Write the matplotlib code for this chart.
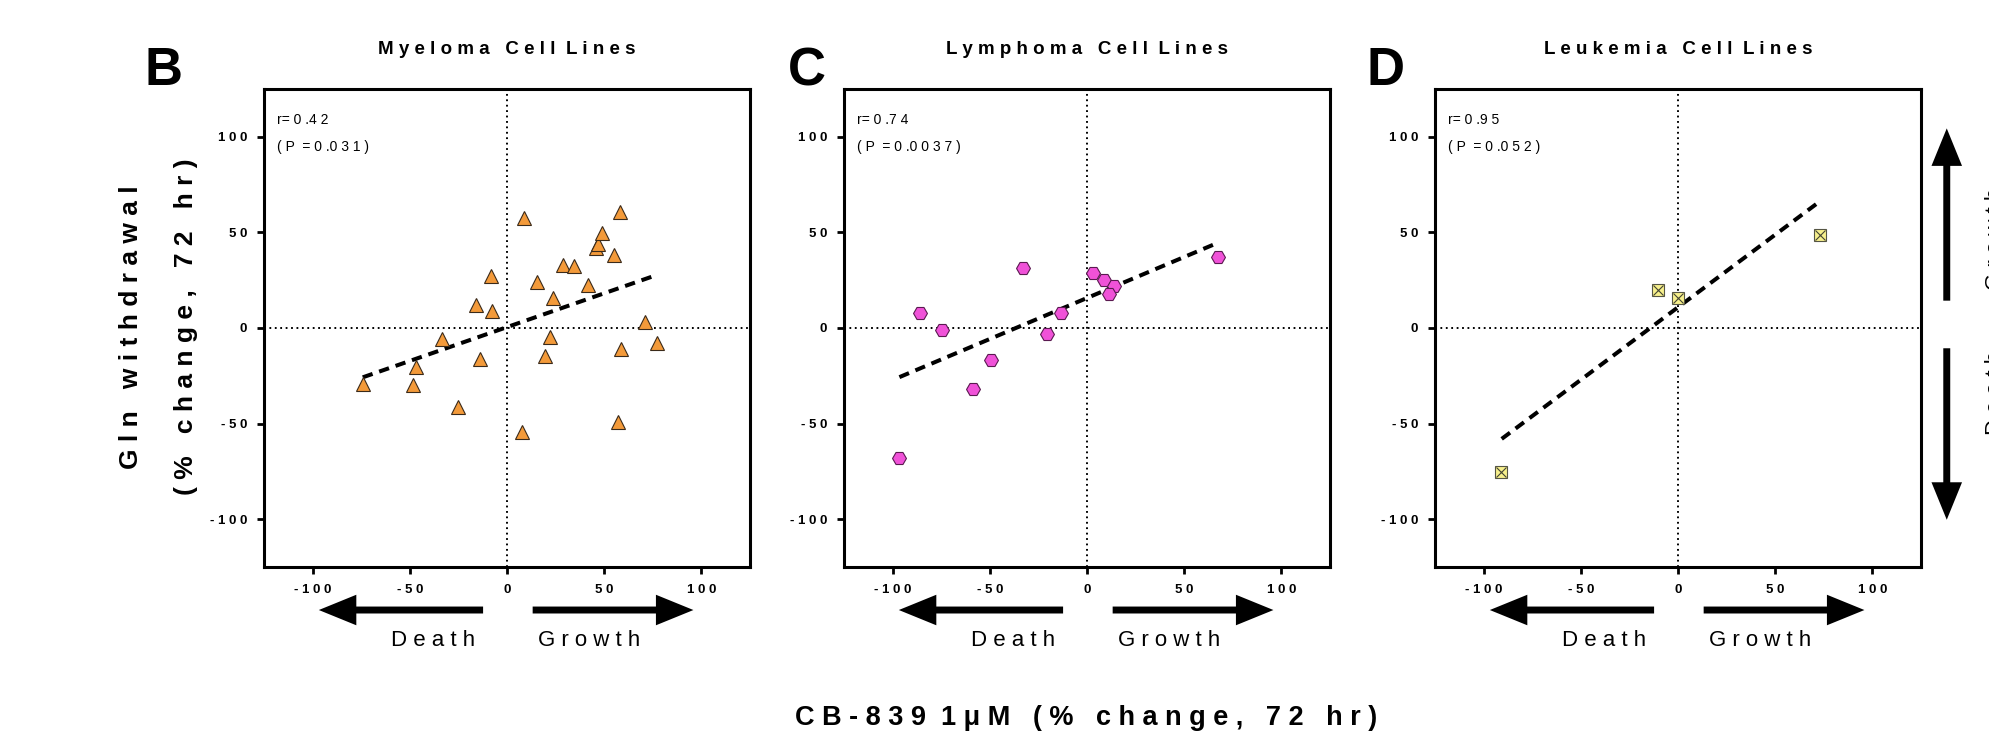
import matplotlib
matplotlib.use('Agg')
import matplotlib.pyplot as plt
from matplotlib.patches import FancyArrowPatch, ArrowStyle

plt.rcParams['font.family'] = ['Liberation Sans', 'DejaVu Sans']
plt.rcParams['lines.scale_dashes'] = False

# ---------------- data ----------------
panel_letters = ['B', 'C', 'D']
panel_titles = ['M y e l o m a   C e l l  L i n e s',
                'L y m p h o m a   C e l l  L i n e s',
                'L e u k e m i a   C e l l  L i n e s']

myeloma_x = [-74.2, -48.4, -46.7, -25.0, -33.2, -13.8, -15.9, -8.0, -7.9, 8.9,
             7.7, 15.6, 23.8, 22.1, 19.5, 28.7, 34.4, 41.5, 45.6, 47.0,
             48.9, 55.2, 57.9, 58.5, 56.9, 70.8, 77.4]
myeloma_y = [-29.1, -29.6, -20.4, -41.4, -5.7, -16.0, 12.0, 27.1, 8.7, 57.7,
             -54.3, 24.3, 15.6, -4.7, -14.8, 33.0, 32.2, 22.4, 41.7, 44.0,
             49.6, 38.3, 60.9, -11.0, -49.3, 3.1, -7.8]
myeloma_fit_x = [-74.2, 76.4]
myeloma_fit_y = [-25.8, 27.5]
myeloma_stats = ['r= 0 .4 2', '( P  = 0 .0 3 1 )']

lymphoma_x = [-96.9, -86.0, -74.8, -58.5, -49.4, -32.9, -20.8, -13.6, 3.1, 8.8,
              14.0, 11.2, 67.3]
lymphoma_y = [-68.2, 7.8, -1.0, -31.7, -16.5, 31.5, -3.1, 7.8, 28.9, 25.2,
              21.9, 17.7, 37.0]
lymphoma_fit_x = [-96.5, 66.7]
lymphoma_fit_y = [-25.7, 44.3]
lymphoma_stats = ['r= 0 .7 4', '( P  = 0 .0 0 3 7 )']

leukemia_x = [-91.1, -10.4, 0.2, 73.2]
leukemia_y = [-75.4, 19.7, 15.5, 48.4]
leukemia_fit_x = [-90.7, 73.2]
leukemia_fit_y = [-58.0, 66.4]
leukemia_stats = ['r= 0 .9 5', '( P  = 0 .0 5 2 )']

tick_values = [-100, -50, 0, 50, 100]
tick_labels = ['- 1 0 0', '- 5 0', '0', '5 0', '1 0 0']
axis_limits = [-125, 125]

x_label = 'C B - 8 3 9  1 \u03bc M   ( %   c h a n g e ,   7 2   h r )'
y_label_1 = 'G l n   w i t h d r a w a l'
y_label_2 = '( %   c h a n g e ,   7 2   h r )'
death_label = 'D e a t h'
growth_label = 'G r o w t h'

# ---------------- figure ----------------
W, H = 1990, 733
fig = plt.figure(figsize=(W / 100, H / 100), dpi=100)

ax_left_px = [264, 844, 1435]
ax_top_px, ax_bot_px, ax_w_px = 89, 567, 486
axes = []
for lp in ax_left_px:
    ax = fig.add_axes([lp / W, 1 - ax_bot_px / H, ax_w_px / W, (ax_bot_px - ax_top_px) / H])
    axes.append(ax)

datasets = [
    (myeloma_x, myeloma_y, myeloma_fit_x, myeloma_fit_y, myeloma_stats),
    (lymphoma_x, lymphoma_y, lymphoma_fit_x, lymphoma_fit_y, lymphoma_stats),
    (leukemia_x, leukemia_y, leukemia_fit_x, leukemia_fit_y, leukemia_stats),
]

shaft_style = ArrowStyle.Simple(head_length=27, head_width=22, tail_width=5)


def arrow(ax, p0, p1, transform):
    a = FancyArrowPatch(p0, p1, arrowstyle=shaft_style, mutation_scale=1,
                        color='black', lw=0, shrinkA=0, shrinkB=0,
                        transform=transform, clip_on=False)
    ax.add_patch(a)


for i, (ax, (xs, ys, fx, fy, stats)) in enumerate(zip(axes, datasets)):
    ax.set_xlim(axis_limits)
    ax.set_ylim(axis_limits)
    ax.axvline(0, color='black', lw=1.4, linestyle=(0, (1.3, 2.6)), zorder=1)
    ax.axhline(0, color='black', lw=1.4, linestyle=(0, (1.3, 2.6)), zorder=1)
    ax.plot(fx, fy, color='black', lw=2.9, linestyle=(0, (7.5, 5.0)),
            dash_capstyle='butt', zorder=2)
    if i == 0:
        ax.plot(xs, ys, linestyle='none', marker='^', ms=10,
                mfc='#F39A3A', mec='#3a2a1a', mew=0.8, zorder=3)
    elif i == 1:
        ax.plot(xs, ys, linestyle='none', marker='H', ms=10,
                mfc='#F052D8', mec='#5a1a50', mew=0.8, zorder=3)
    else:
        ax.plot(xs, ys, linestyle='none', marker='s', ms=9,
                mfc='#F7F08C', mec='#555544', mew=0.8, zorder=3)
        ax.plot(xs, ys, linestyle='none', marker='x', ms=7.5,
                mec='#444433', mew=0.8, zorder=4)

    ax.set_xticks(tick_values)
    ax.set_xticklabels(tick_labels)
    ax.set_yticks(tick_values)
    ax.set_yticklabels(tick_labels)
    ax.tick_params(direction='out', length=5, width=2, pad=7,
                   labelsize=9.5, colors='black')
    for lab in ax.get_xticklabels() + ax.get_yticklabels():
        lab.set_fontweight('bold')
    for sp in ax.spines.values():
        sp.set_linewidth(2.2)

    ax.text(0.026, 0.935, stats[0], transform=ax.transAxes, fontsize=10,
            ha='left', va='center')
    ax.text(0.026, 0.879, stats[1], transform=ax.transAxes, fontsize=10,
            ha='left', va='center')

    ax.text(0.5, 1.0826, panel_titles[i], transform=ax.transAxes, fontsize=13.5,
            fontweight='bold', ha='center', va='center')

    # Death / Growth arrows below x axis
    xt = ax.get_xaxis_transform()
    arrow(ax, (-12.3, -0.09), (-96.8, -0.09), xt)
    arrow(ax, (13.2, -0.09), (95.9, -0.09), xt)
    ax.text(-38.2, -0.153, death_label, transform=xt, fontsize=16,
            ha='center', va='center')
    ax.text(42.0, -0.153, growth_label, transform=xt, fontsize=16,
            ha='center', va='center')

# vertical arrows right of panel D
yt = axes[2].get_yaxis_transform()
arrow(axes[2], (1.053, 14.3), (1.053, 104.4), yt)
arrow(axes[2], (1.053, -10.6), (1.053, -100.3), yt)

fig.text(1985 / W, 1 - 239 / H, growth_label, rotation=90, fontsize=16,
         ha='left', va='center')
fig.text(1985 / W, 1 - 393 / H, death_label, rotation=90, fontsize=16,
         ha='left', va='center')

# panel letters
for letter, lx in zip(panel_letters, [145, 788, 1366]):
    fig.text(lx / W, 1 - 71 / H, letter, fontsize=38, fontweight='bold',
             ha='left', va='center')

# axis labels
fig.text(131 / W, 1 - 327 / H, y_label_1, rotation=90, fontsize=19,
         fontweight='bold', ha='center', va='center')
fig.text(186 / W, 1 - 327 / H, y_label_2, rotation=90, fontsize=19,
         fontweight='bold', ha='center', va='center')
fig.text(1086 / W, 1 - 718 / H, x_label, fontsize=19.5, fontweight='bold',
         ha='center', va='center')

fig.savefig('out.png', dpi=100, facecolor='white')
